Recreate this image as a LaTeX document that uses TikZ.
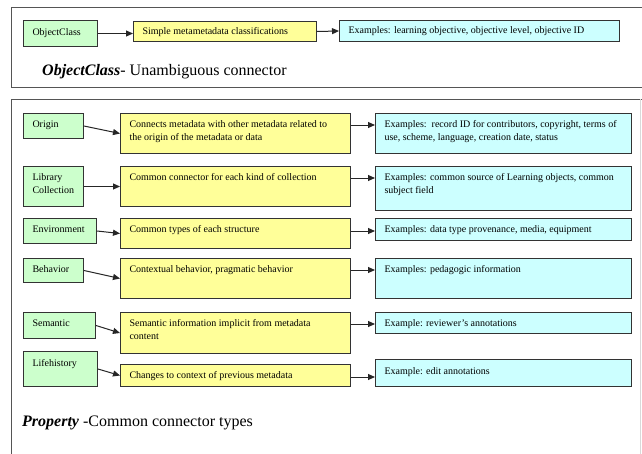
\documentclass[tikz,border=0pt]{standalone}
\usepackage{fontspec}
\setmainfont{Liberation Serif}
\usetikzlibrary{arrows.meta}
\definecolor{gfill}{HTML}{CCFFCC}
\definecolor{yfill}{HTML}{FFFF99}
\definecolor{cfill}{HTML}{CCFFFF}
\definecolor{bord}{HTML}{333333}
\definecolor{frm}{HTML}{555555}
\newcommand{\bxt}[4][4.5]{\parbox[c][#3pt][t]{#2pt}{\vspace*{#1pt}\hyphenpenalty=10000\leftskip=9pt\rightskip=0pt plus 1fil\parfillskip=0pt plus 1fil\noindent\strut #4\strut\par}}
\begin{document}
\begin{tikzpicture}[x=1pt,y=-1pt,
  font=\fontsize{10}{13.5}\selectfont,
  bx/.style={draw=bord, line width=1pt, inner sep=0pt, anchor=north west},
  gbox/.style={bx, fill=gfill},
  ybox/.style={bx, fill=yfill},
  cbox/.style={bx, fill=cfill},
  arr/.style={draw=black!85, line width=1pt, -{Triangle[length=7pt,width=6pt]}},
  frame/.style={draw=frm, line width=1pt},
  big/.style={anchor=base west, inner sep=0pt, font=\fontsize{16}{19}\selectfont}]
\clip (0,0) rectangle (642,453);
\fill[white] (0,0) rectangle (642,453);
% frames
\draw[frame] (650,7) -- (11,7) -- (11,87) -- (650,87);
\draw[frame] (650,99) -- (11,99) -- (11,460);
\draw[draw=black!15, line width=1pt] (640,99) -- (640,460);
% top row
\node[gbox] (oc) at (23,20) {\bxt[6]{74}{26}{ObjectClass}};
\node[ybox] (ocy) at (133,21) {\bxt[3.5]{183}{20}{Simple metametadata classifications}};
\node[cbox] (occ) at (339,20) {\bxt[4]{280}{21}{Examples: learning objective, objective level, objective ID}};
\draw[arr] (oc.east) -- (oc.east -| ocy.west);
\draw[arr] (ocy.east) -- (occ.west);
\node[big] (t1) at (42,75) {\textbf{\textit{ObjectClass}}- Unambiguous connector};
% row 1
\node[gbox] (g1) at (23,113) {\bxt{60}{25}{Origin}};
\node[ybox] (y1) at (120,113) {\bxt{230}{40}{Connects metadata with other metadata related to\newline the origin of the metadata or data}};
\node[cbox] (c1) at (375,113) {\bxt{256}{40}{Examples:\ \ record ID for contributors, copyright, terms of\newline use, scheme, language, creation date, status}};
% row 2
\node[gbox] (g2) at (23,166) {\bxt{60}{40}{Library\newline Collection}};
\node[ybox] (y2) at (120,166) {\bxt{230}{40}{Common connector for each kind of collection}};
\node[cbox] (c2) at (375,166) {\bxt{256}{44}{Examples: common source of Learning objects, common\newline subject field}};
% row 3
\node[gbox] (g3) at (23,218) {\bxt{73}{25}{Environment}};
\node[ybox] (y3) at (120,218) {\bxt{230}{30}{Common types of each structure}};
\node[cbox] (c3) at (375,218) {\bxt{256}{22}{Examples: data type provenance, media, equipment}};
% row 4
\node[gbox] (g4) at (23,258) {\bxt{60}{24}{Behavior}};
\node[ybox] (y4) at (120,258) {\bxt{230}{40}{Contextual behavior, pragmatic behavior}};
\node[cbox] (c4) at (375,258) {\bxt{256}{40}{Examples: pedagogic information}};
% row 5
\node[gbox] (g5) at (23,312) {\bxt{72}{26}{Semantic}};
\node[ybox] (y5) at (120,312) {\bxt{230}{41}{Semantic information implicit from metadata\newline content}};
\node[cbox] (c5) at (375,312) {\bxt{256}{21}{Example: reviewer’s annotations}};
% row 6
\node[gbox] (g6) at (23,351) {\bxt[6]{74}{35}{Lifehistory}};
\node[ybox] (y6) at (120,364) {\bxt{230}{22}{Changes to context of previous metadata}};
\node[cbox] (c6) at (375,359) {\bxt[6]{256}{27}{Example: edit annotations}};
% green -> yellow
\foreach \i in {1,...,6} {\draw[arr] (g\i.east) -- (y\i.west);}
% yellow -> cyan
\foreach \i/\d in {1/12,2/12,3/13,4/12,5/12,6/13} {
  \coordinate (a\i) at ([yshift=-\d pt]y\i.north east);
  \draw[arr] (a\i) -- (a\i -| c\i.west);
}
\node[big] (t2) at (22,426) {\textbf{\textit{Property}} -Common connector types};
\end{tikzpicture}
\end{document}
